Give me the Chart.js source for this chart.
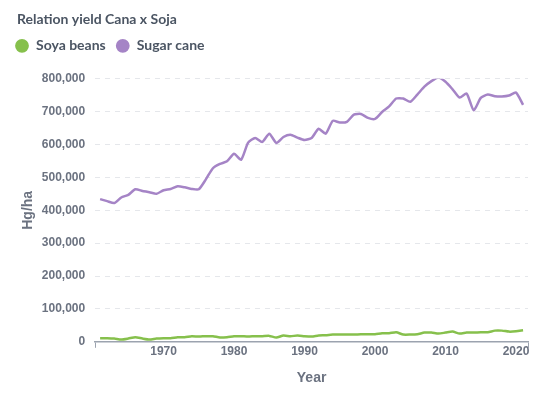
<!DOCTYPE html>
<html>
<head>
<meta charset="utf-8">
<script src="https://cdn.jsdelivr.net/npm/chart.js@4.4.1/dist/chart.umd.min.js"></script>
<style>
  html, body { margin: 0; padding: 0; background: #fff; }
  #wrap { width: 558px; height: 396px; }
</style>
</head>
<body>
<div id="wrap"><canvas id="yieldChart"></canvas></div>
<script>
// Data (Hg/ha)
const years = [];
for (let y = 1961; y <= 2021; y++) years.push(y);

const soyaBeans = [
  11000, 11000, 10000, 7000, 10000, 14000, 10000, 7000, 10000, 11000,
  11000, 14000, 14000, 17000, 16000, 17000, 17000, 13000, 14000, 17000,
  17000, 16000, 17000, 17000, 18000, 13000, 19000, 17000, 19000, 17000,
  16000, 19000, 20000, 22000, 22000, 22000, 22000, 23000, 23000, 23000,
  26000, 26000, 29000, 22000, 22000, 23000, 28000, 28000, 25000, 28000,
  31000, 25000, 28000, 28000, 29000, 29000, 34000, 34000, 31000, 32000, 35000
];

const sugarCane = [
  434000, 428000, 422000, 439000, 447000, 464000, 459000, 455000, 450000, 461000,
  465000, 473000, 470000, 465000, 464000, 494000, 528000, 541000, 549000, 572000,
  554000, 606000, 620000, 608000, 633000, 605000, 623000, 630000, 621000, 614000,
  620000, 648000, 633000, 672000, 667000, 669000, 691000, 693000, 681000, 678000,
  699000, 716000, 740000, 740000, 730000, 752000, 776000, 793000, 804000, 791000,
  768000, 743000, 755000, 704000, 742000, 752000, 747000, 746000, 749000, 758000, 721000
];

const yearTicks = [1970, 1980, 1990, 2000, 2010, 2020];

const tickColor = '#6b7280';
const axisColor = '#9ca3af';

// legend: more room below it, and pulled to the left edge
const legendTweak = {
  id: 'legendTweak',
  beforeInit(chart) {
    const lg = chart.legend;
    const fit = lg.fit;
    lg.fit = function () {
      fit.call(lg);
      this.height += 16;
    };
    const draw = lg.draw;
    lg.draw = function () {
      const c = chart.ctx;
      c.save();
      c.translate(-12, 0);
      draw.call(lg);
      c.restore();
    };
  }
};

const ctx = document.getElementById('yieldChart').getContext('2d');
new Chart(ctx, {
  type: 'line',
  data: {
    datasets: [{
      label: 'Soya beans',
      data: years.map((y, i) => ({ x: y, y: soyaBeans[i] })),
      borderColor: '#86c04c',
      backgroundColor: '#86c04c',
      borderWidth: 2.5,
      pointRadius: 0,
      tension: 0.2
    }, {
      label: 'Sugar cane',
      data: years.map((y, i) => ({ x: y, y: sugarCane[i] })),
      borderColor: '#a584c6',
      backgroundColor: '#a584c6',
      borderWidth: 2.5,
      pointRadius: 0,
      tension: 0.2
    }]
  },
  options: {
    responsive: true,
    maintainAspectRatio: false,
    animation: false,
    layout: { padding: { left: 17, right: 30, top: 6, bottom: 5 } },
    plugins: {
      title: {
        display: true,
        text: 'Relation yield Cana x Soja',
        align: 'start',
        color: '#4b5563',
        font: { family: 'Lato', size: 14, weight: 'bold' },
        padding: { top: 5, bottom: 1 }
      },
      legend: {
        align: 'start',
        labels: {
          usePointStyle: true,
          pointStyle: 'circle',
          boxWidth: 14,
          boxHeight: 8,
          padding: 10,
          color: '#4b5563',
          font: { family: 'Lato', size: 14, weight: 'bold' }
        }
      },
      tooltip: { enabled: false }
    },
    scales: {
      x: {
        type: 'linear',
        min: 1960.3,
        max: 2021.7,
        afterBuildTicks(scale) {
          scale.ticks = [scale.min, ...yearTicks, scale.max].map(v => ({ value: v }));
        },
        ticks: {
          autoSkip: false,
          maxRotation: 0,
          color: tickColor,
          font: { family: 'Liberation Sans', size: 12, weight: 'bold' },
          padding: -3,
          callback: v => yearTicks.includes(v) ? String(v) : ''
        },
        grid: {
          drawOnChartArea: false,
          tickLength: 6,
          color: c => (c.tick && yearTicks.includes(c.tick.value)) ? 'rgba(0,0,0,0)' : axisColor
        },
        border: { color: axisColor, width: 1.5 },
        title: {
          display: true,
          text: 'Year',
          color: tickColor,
          font: { family: 'Liberation Sans', size: 14, weight: 'bold' },
          padding: { top: 14 }
        }
      },
      y: {
        min: 0,
        max: 800000,
        ticks: {
          stepSize: 100000,
          color: tickColor,
          font: { family: 'Liberation Sans', size: 12, weight: 'bold' },
          padding: 10
        },
        grid: {
          color: '#e5e7eb',
          drawTicks: false
        },
        border: { display: false, dash: [5, 5] },
        title: {
          display: true,
          text: 'Hg/ha',
          color: tickColor,
          font: { family: 'Liberation Sans', size: 14, weight: 'bold' },
          padding: { top: 3, bottom: -5 }
        }
      }
    }
  },
  plugins: [legendTweak]
});
</script>
</body>
</html>
